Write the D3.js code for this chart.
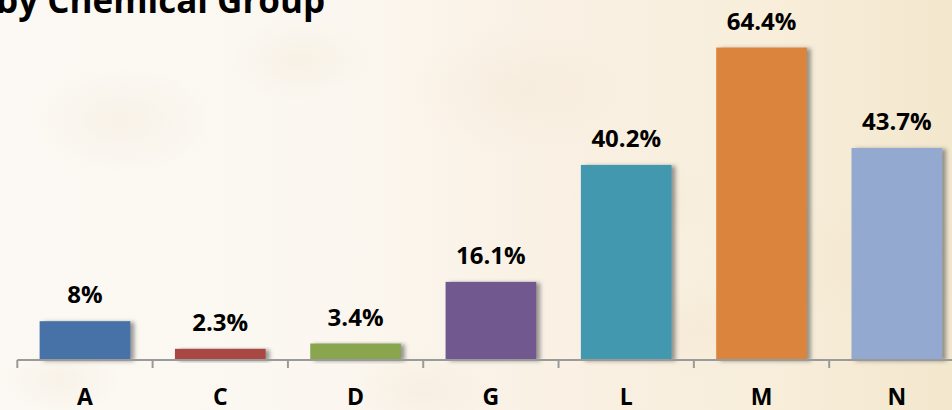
<!DOCTYPE html>
<html>
<head>
<meta charset="utf-8">
<script src="https://cdn.jsdelivr.net/npm/d3@7"></script>
<style>
  html, body { margin: 0; padding: 0; background: #fbf6ee; }
  svg { display: block; }
</style>
</head>
<body>
<svg id="chart" width="952" height="410"></svg>
<script>
// Share by chemical group (percent)
const categories = ["A", "C", "D", "G", "L", "M", "N"];
const values = [8, 2.3, 3.4, 16.1, 40.2, 64.4, 43.7];
const valueLabels = ["8%", "2.3%", "3.4%", "16.1%", "40.2%", "64.4%", "43.7%"];
const colors = ["#4672a8", "#a94643", "#89a54e", "#71588f", "#4298af", "#db843d", "#93a9cf"];
const titleText = "by Chemical Group";

const W = 952, H = 410;
const svg = d3.select("#chart");
const defs = svg.append("defs");

// parchment background
const bg = defs.append("linearGradient").attr("id", "paper").attr("x1", 0).attr("x2", 1).attr("y1", 0).attr("y2", 0);
[[0, "#fcf9f4"], [0.35, "#fbf7f0"], [0.6, "#faf0e3"], [0.8, "#f8eedb"], [1, "#f3e7cd"]]
  .forEach(([o, c]) => bg.append("stop").attr("offset", o).attr("stop-color", c));
svg.append("rect").attr("width", W).attr("height", H).attr("fill", "url(#paper)");

const blot = defs.append("radialGradient").attr("id", "blot");
blot.append("stop").attr("offset", 0).attr("stop-color", "#efe2cc").attr("stop-opacity", 0.3);
blot.append("stop").attr("offset", 1).attr("stop-color", "#efe2cc").attr("stop-opacity", 0);
const blotsX = [120, 300, 520, 700, 880, 640, 60, 420];
const blotsY = [120, 60, 90, 330, 260, 200, 380, 390];
const blotsR = [90, 70, 110, 80, 120, 70, 60, 70];
svg.append("g").selectAll("ellipse").data(blotsX).join("ellipse")
  .attr("cx", d => d).attr("cy", (d, i) => blotsY[i])
  .attr("rx", (d, i) => blotsR[i]).attr("ry", (d, i) => blotsR[i] * 0.6)
  .attr("fill", "url(#blot)");

// bar shadow
const sh = defs.append("filter").attr("id", "shadow").attr("x", "-10%").attr("y", "-10%").attr("width", "130%").attr("height", "130%");
sh.append("feDropShadow").attr("dx", 4).attr("dy", 1).attr("stdDeviation", 2.2)
  .attr("flood-color", "#555").attr("flood-opacity", 0.6);

// scales
const x = d3.scaleBand().domain(categories).range([17.3, 964.5]).paddingInner(0.33).paddingOuter(0.165);
const y = d3.scaleLinear().domain([0, 74.2]).range([360, 0]);

// bars
svg.append("g").selectAll("rect").data(values).join("rect")
  .attr("x", (d, i) => x(categories[i]))
  .attr("width", x.bandwidth())
  .attr("y", d => y(d))
  .attr("height", d => y(0) - y(d))
  .attr("fill", (d, i) => colors[i])
  .attr("filter", "url(#shadow)");

// category axis
const step = x.step();
const axis = svg.append("g").attr("transform", `translate(0,${y(0)})`);
axis.append("line").attr("x1", 17.3).attr("x2", W).attr("y1", 0).attr("y2", 0)
  .attr("stroke", "#9a9a9a").attr("stroke-width", 2);
axis.selectAll("line.tick").data(d3.range(categories.length + 1)).join("line").attr("class", "tick")
  .attr("x1", i => 17.3 + i * step).attr("x2", i => 17.3 + i * step)
  .attr("y1", 0).attr("y2", 8)
  .attr("stroke", "#9a9a9a").attr("stroke-width", 2);
axis.selectAll("text").data(categories).join("text")
  .attr("x", d => x(d) + x.bandwidth() / 2)
  .attr("y", 45)
  .attr("text-anchor", "middle")
  .attr("font-family", "'Open Sans', sans-serif")
  .attr("font-weight", 700)
  .attr("font-size", 23)
  .attr("fill", "#000")
  .text(d => d);

// value labels
svg.append("g").selectAll("text").data(values).join("text")
  .attr("x", (d, i) => x(categories[i]) + x.bandwidth() / 2)
  .attr("y", d => y(d) - 18)
  .attr("text-anchor", "middle")
  .attr("font-family", "'Open Sans', sans-serif")
  .attr("font-weight", 700)
  .attr("font-size", 24)
  .attr("fill", "#000")
  .text((d, i) => valueLabels[i]);

// title (runs off the top-left corner)
svg.append("text")
  .attr("x", -4).attr("y", 13)
  .attr("font-family", "'Open Sans', sans-serif")
  .attr("font-weight", 700)
  .attr("font-size", 35)
  .attr("fill", "#000")
  .text(titleText);
</script>
</body>
</html>
